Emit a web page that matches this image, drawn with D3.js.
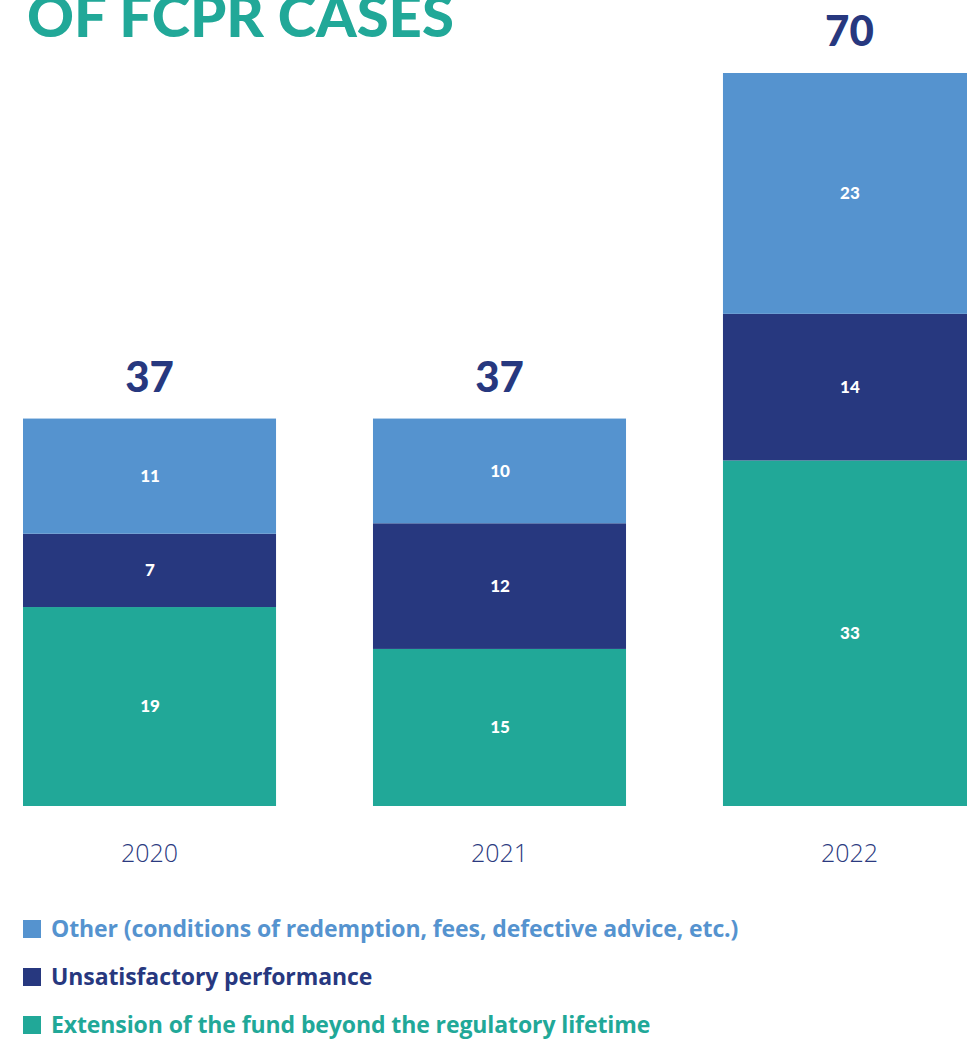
<!DOCTYPE html>
<html>
<head>
<meta charset="utf-8">
<script src="https://cdn.jsdelivr.net/npm/d3@7"></script>
<style>
  body { margin: 0; background: #fff; }
  svg { display: block; }
</style>
</head>
<body>
<div id="chart"></div>
<script>
// data
var years = ["2020", "2021", "2022"];
var extension = [19, 15, 33];
var performance = [7, 12, 14];
var other = [11, 10, 23];
var totals = [37, 37, 70];
var seriesKeys = ["extension", "performance", "other"];
var legendLabels = [
  "Other (conditions of redemption, fees, defective advice, etc.)",
  "Unsatisfactory performance",
  "Extension of the fund beyond the regulatory lifetime"
];

var W = 967, H = 1039;
var colors = { other: "#5593cf", performance: "#27387f", extension: "#21a898" };

var svg = d3.select("#chart").append("svg")
  .attr("width", W)
  .attr("height", H);

// title (cut off at the top in the original)
svg.append("text")
  .attr("x", 27)
  .attr("y", 37)
  .attr("fill", "#21a898")
  .style("font-family", "Lato")
  .style("font-weight", 900)
  .style("font-size", "58px")
  .text("OF FCPR CASES");

var table = years.map(function (y, i) {
  return { year: y, extension: extension[i], performance: performance[i], other: other[i], total: totals[i] };
});

var stacked = d3.stack().keys(seriesKeys)(table);

var x = d3.scaleBand()
  .domain(years)
  .range([23, 976])
  .paddingInner(0.277)
  .paddingOuter(0);

var y = d3.scaleLinear()
  .domain([0, 70])
  .range([806, 73]);

var layers = svg.selectAll(".layer")
  .data(stacked)
  .enter().append("g")
  .attr("class", "layer")
  .attr("fill", function (d) { return colors[d.key]; });

layers.selectAll("rect")
  .data(function (d) { return d; })
  .enter().append("rect")
  .attr("x", function (d) { return x(d.data.year); })
  .attr("y", function (d) { return y(d[1]); })
  .attr("width", x.bandwidth())
  .attr("height", function (d) { return y(d[0]) - y(d[1]); });

// segment values
layers.selectAll("text")
  .data(function (d) { return d.map(function (p) { return { p: p, key: d.key }; }); })
  .enter().append("text")
  .attr("x", function (d) { return x(d.p.data.year) + x.bandwidth() / 2 + 0.5; })
  .attr("y", function (d) { return (y(d.p[0]) + y(d.p[1])) / 2; })
  .attr("dy", "0.35em")
  .attr("text-anchor", "middle")
  .attr("fill", "#fff")
  .style("font-family", "Lato")
  .style("font-weight", 900)
  .style("font-size", "17px")
  .text(function (d) { return d.p.data[d.key]; });

// totals
svg.selectAll(".total")
  .data(table)
  .enter().append("text")
  .attr("class", "total")
  .attr("x", function (d) { return x(d.year) + x.bandwidth() / 2; })
  .attr("y", function (d) { return y(d.total) - 27; })
  .attr("text-anchor", "middle")
  .attr("fill", "#27387f")
  .style("font-family", "Lato")
  .style("font-weight", 900)
  .style("font-size", "42px")
  .text(function (d) { return d.total; });

// x axis labels
var xAxis = d3.axisBottom(x).tickSize(0).tickPadding(0);
var gx = svg.append("g")
  .attr("transform", "translate(0, 862)")
  .call(xAxis);
gx.select(".domain").remove();
gx.selectAll("text")
  .attr("y", 0)
  .attr("dy", 0)
  .attr("fill", "#2b3a80")
  .style("font-family", "Open Sans")
  .style("font-weight", 300)
  .style("font-size", "25px");

// legend
var legendColors = [colors.other, colors.performance, colors.extension];
var legend = svg.selectAll(".legend")
  .data(legendLabels)
  .enter().append("g")
  .attr("class", "legend")
  .attr("transform", function (d, i) { return "translate(23," + (929 + i * 48) + ")"; });

legend.append("rect")
  .attr("x", 0)
  .attr("y", -9)
  .attr("width", 18)
  .attr("height", 18)
  .attr("fill", function (d, i) { return legendColors[i]; });

legend.append("text")
  .attr("x", 28)
  .attr("dy", "0.35em")
  .attr("fill", function (d, i) { return legendColors[i]; })
  .style("font-family", "Open Sans")
  .style("font-weight", 700)
  .style("font-size", "23px")
  .style("letter-spacing", "-0.1px")
  .text(function (d) { return d; });
</script>
</body>
</html>
